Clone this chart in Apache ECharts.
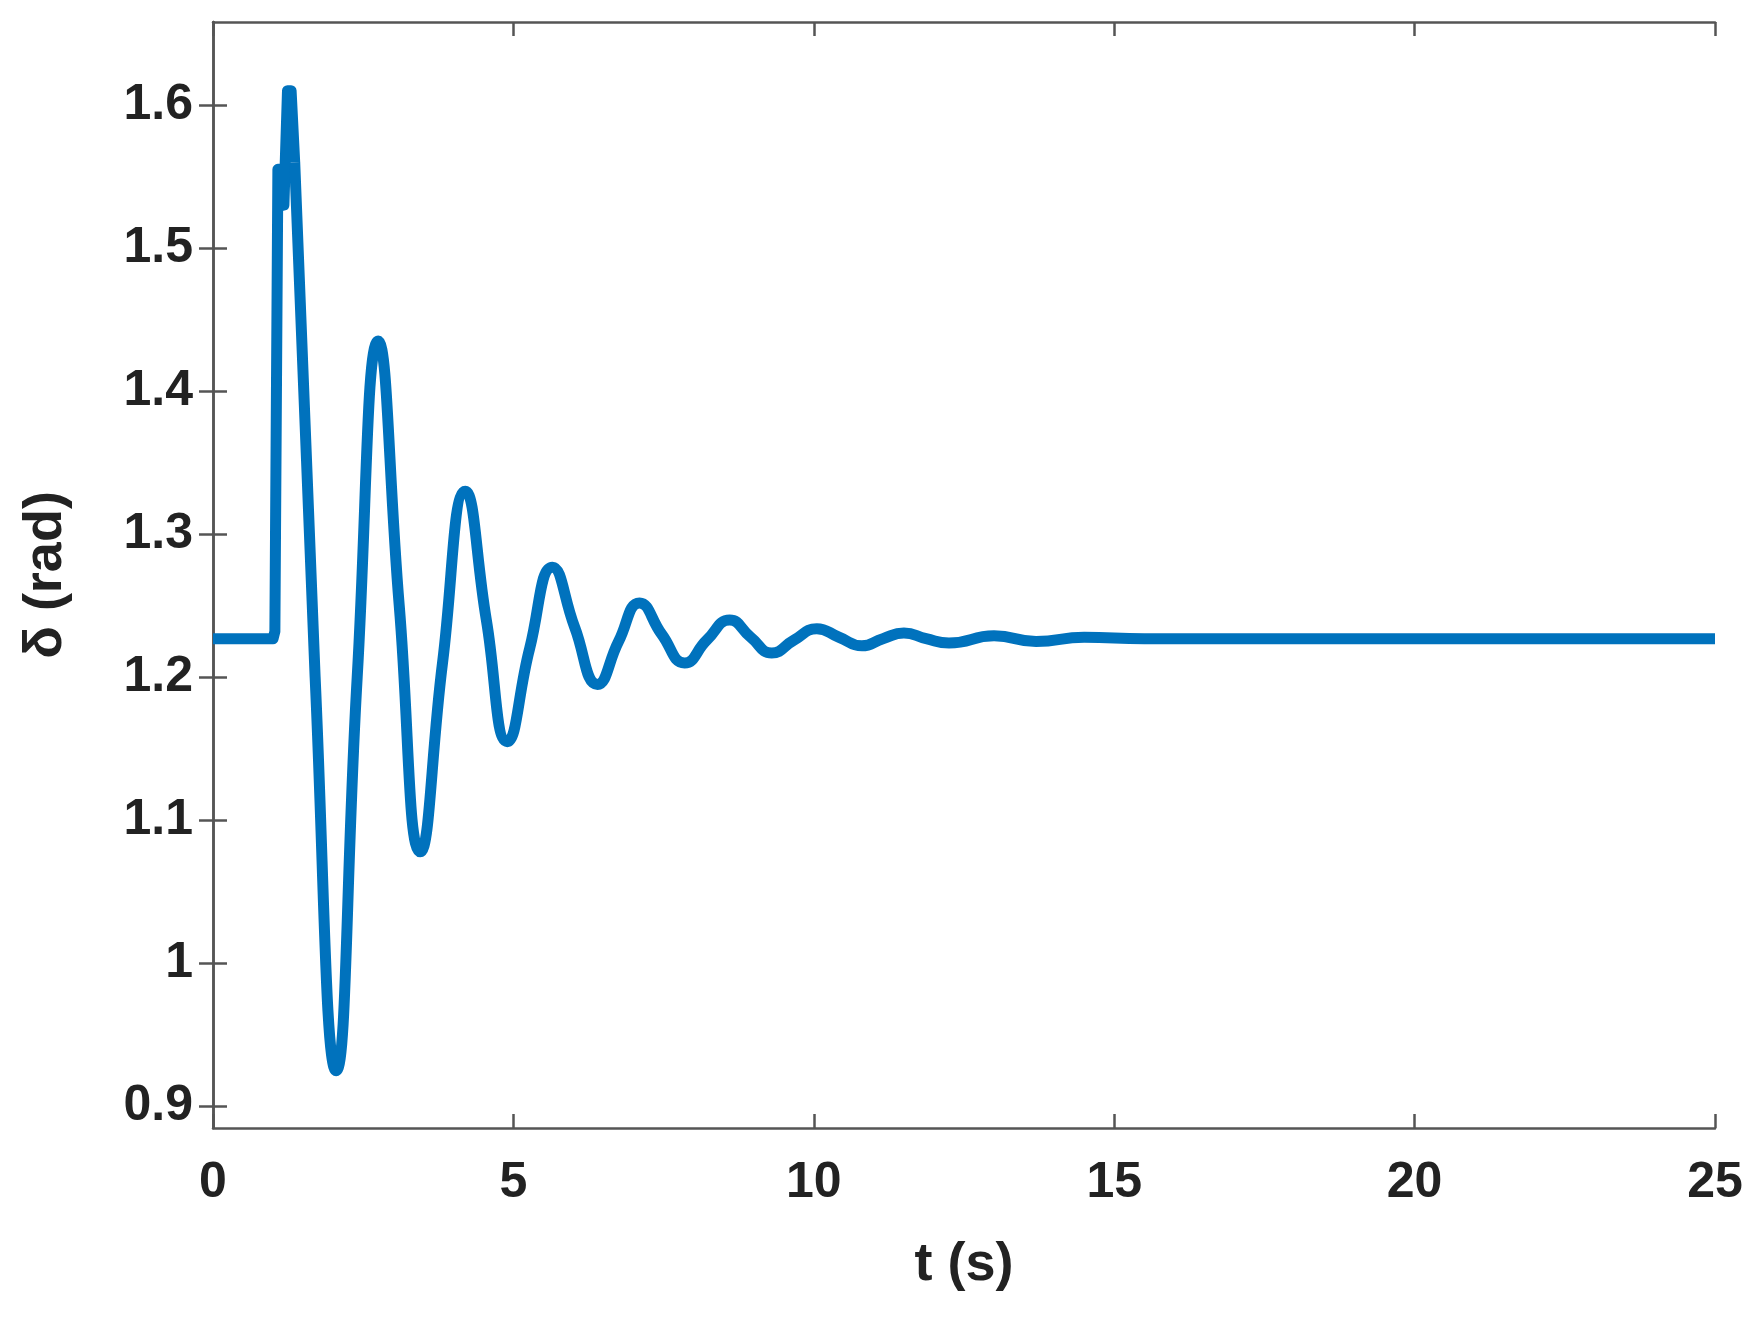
<!DOCTYPE html>
<html><head><meta charset="utf-8">
<script src="https://cdn.jsdelivr.net/npm/echarts@6/dist/echarts.min.js"></script>
<style>html,body{margin:0;background:#fff}#c{width:1759px;height:1327px}</style>
</head><body><div id="c"></div>
<script>
// pre-fault, fault and first swing (drawn straight)
const faultT = [0, 1.0, 1.03, 1.08, 1.12, 1.18, 1.24, 1.3, 1.36];
const faultD = [1.227, 1.227, 1.232, 1.555, 1.555, 1.53, 1.61, 1.61, 1.56];
// post-fault oscillation (smoothed)
const oscT = [1.36, 1.7, 2.05, 2.4, 2.75, 3.1, 3.45, 3.82, 4.2, 4.55, 4.9, 5.27, 5.65, 6.02, 6.4, 6.75, 7.1, 7.47, 7.85, 8.22, 8.6, 8.95, 9.3, 9.67, 10.05, 10.42, 10.8, 11.15, 11.5, 11.87, 12.25, 13.0, 13.7, 14.5, 15.5, 25];
const oscD = [1.56, 1.2, 0.925, 1.2, 1.435, 1.25, 1.078, 1.21, 1.33, 1.24, 1.155, 1.22, 1.277, 1.235, 1.195, 1.225, 1.252, 1.23, 1.21, 1.226, 1.24, 1.228, 1.217, 1.226, 1.234, 1.228, 1.222, 1.227, 1.231, 1.227, 1.224, 1.229, 1.225, 1.228, 1.227, 1.227];
const yTicks = [0.9, 1, 1.1, 1.2, 1.3, 1.4, 1.5, 1.6];
const xTicks = [0, 5, 10, 15, 20, 25];

const zip = (a, b) => a.map((v, i) => [v, b[i]]);
const font = 'Liberation Sans, Arial, sans-serif';
const axCol = '#555';
const baseY = {
  type: 'value', min: 0.885, max: 1.658,
  axisLine: {show: true, lineStyle: {color: axCol, width: 2.5}},
  axisTick: {show: true, inside: true, length: 14, customValues: yTicks, lineStyle: {color: axCol, width: 2.5}},
  splitLine: {show: false}
};
const baseX = {
  type: 'value', min: 0, max: 25, interval: 5,
  axisLine: {show: true, lineStyle: {color: axCol, width: 2.5}},
  axisTick: {show: true, inside: true, length: 14, lineStyle: {color: axCol, width: 2.5}},
  splitLine: {show: false}
};
const chart = echarts.init(document.getElementById('c'));
chart.setOption({
  animation: false,
  grid: {left: 213, right: 44, top: 22, bottom: 199},
  xAxis: [
    Object.assign({}, baseX, {position: 'bottom', name: 't (s)', nameLocation: 'middle', nameGap: 110,
      nameTextStyle: {fontFamily: font, fontWeight: 'bold', fontSize: 54, color: '#222'},
      axisLabel: {fontFamily: font, fontWeight: 'bold', fontSize: 50, color: '#222', margin: 30}}),
    Object.assign({}, baseX, {position: 'top', axisLabel: {show: false}})
  ],
  yAxis: [
    Object.assign({}, baseY, {position: 'left', name: 'δ (rad)', nameLocation: 'middle', nameGap: 140,
      nameTextStyle: {fontFamily: font, fontWeight: 'bold', fontSize: 54, color: '#222'},
      axisLabel: {customValues: yTicks, fontFamily: font, fontWeight: 'bold', fontSize: 50, color: '#222', margin: 20,
        formatter: v => String(Math.round(v * 10) / 10)}}),
    Object.assign({}, baseY, {position: 'right', axisLabel: {show: false}})
  ],
  series: [
    {type: 'line', data: zip(faultT, faultD), showSymbol: false, lineStyle: {color: '#0072BD', width: 11, join: 'round'}},
    {type: 'line', data: zip(oscT, oscD), smooth: 0.5, showSymbol: false, lineStyle: {color: '#0072BD', width: 11}}
  ]
});
</script></body></html>
